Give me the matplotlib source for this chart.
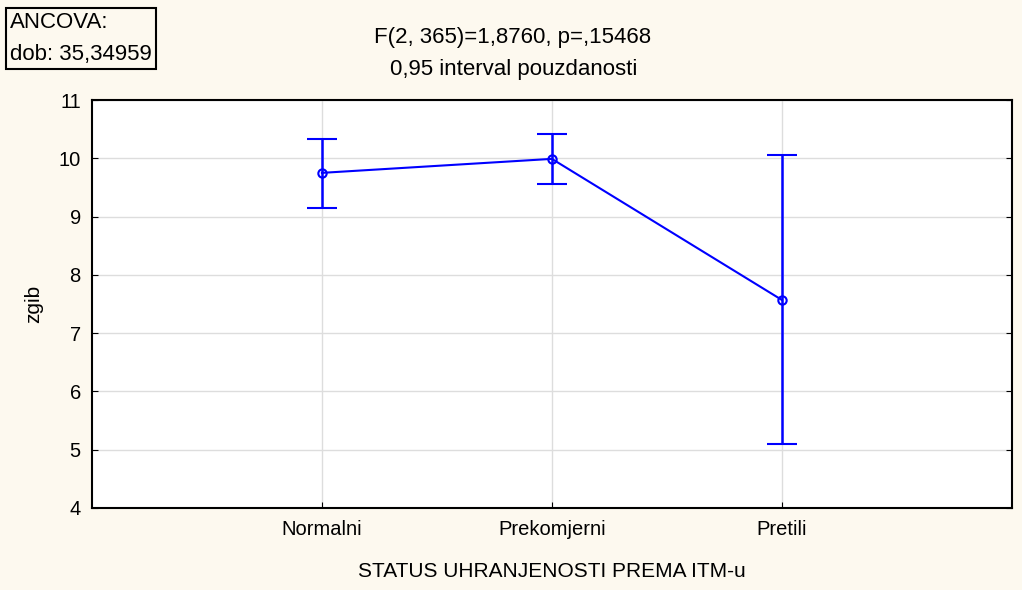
import matplotlib
matplotlib.use("Agg")
import matplotlib.pyplot as plt
import numpy as np

# podaci procitani sa slike
kategorije = ["Normalni", "Prekomjerni", "Pretili"]
prosjek = [9.75, 9.99, 7.57]
gornja = [10.33, 10.42, 10.06]
donja = [9.15, 9.56, 5.10]
y_ticks = [4, 5, 6, 7, 8, 9, 10, 11]

plt.rcParams['font.family'] = ['Liberation Sans', 'DejaVu Sans']
fs_tick = 14.5
fs_txt = 16

fig = plt.figure(figsize=(10.22, 5.90), dpi=100, facecolor='#fdf9ef')
ax = fig.add_axes([0.090, 0.139, 0.900, 0.6915])
ax.set_facecolor('white')

x = np.arange(1, len(kategorije) + 1)
sred = np.array(prosjek)
err = [sred - np.array(donja), np.array(gornja) - sred]
ax.errorbar(x, sred, yerr=err, color='#0000ff', lw=1.5, elinewidth=1.8,
            capsize=11, capthick=1.8, marker='o', markersize=6,
            markerfacecolor='none', markeredgewidth=1.5)

ax.set_xlim(0, 4)
ax.set_ylim(4, 11)
ax.set_yticks(y_ticks)
ax.set_xticks(x)
ax.set_xticklabels(kategorije)
ax.grid(True, color='#dddddd', lw=1)
ax.set_axisbelow(True)
ax.tick_params(direction='in', length=4, labelsize=fs_tick, right=True, top=False)
ax.tick_params(axis='y', pad=8)
ax.tick_params(axis='x', pad=9)
for s in ax.spines.values():
    s.set_linewidth(1.5)
    s.set_color('black')

ax.set_xlabel("STATUS UHRANJENOSTI PREMA ITM-u", fontsize=15, labelpad=16)
ax.set_ylabel("zgib", fontsize=15, labelpad=11)

fig.text(0.502, 0.937, "F(2, 365)=1,8760, p=,15468", ha='center', va='center', fontsize=fs_txt)
fig.text(0.503, 0.882, "0,95 interval pouzdanosti", ha='center', va='center', fontsize=fs_txt)
fig.text(0.010, 0.935, "ANCOVA:\ndob: 35,34959", ha='left', va='center', fontsize=fs_txt,
         linespacing=1.65,
         bbox=dict(boxstyle='square,pad=0.2', facecolor='#fdf9ef', edgecolor='black', lw=1.5))

fig.savefig("out.png", dpi=100, facecolor=fig.get_facecolor())
